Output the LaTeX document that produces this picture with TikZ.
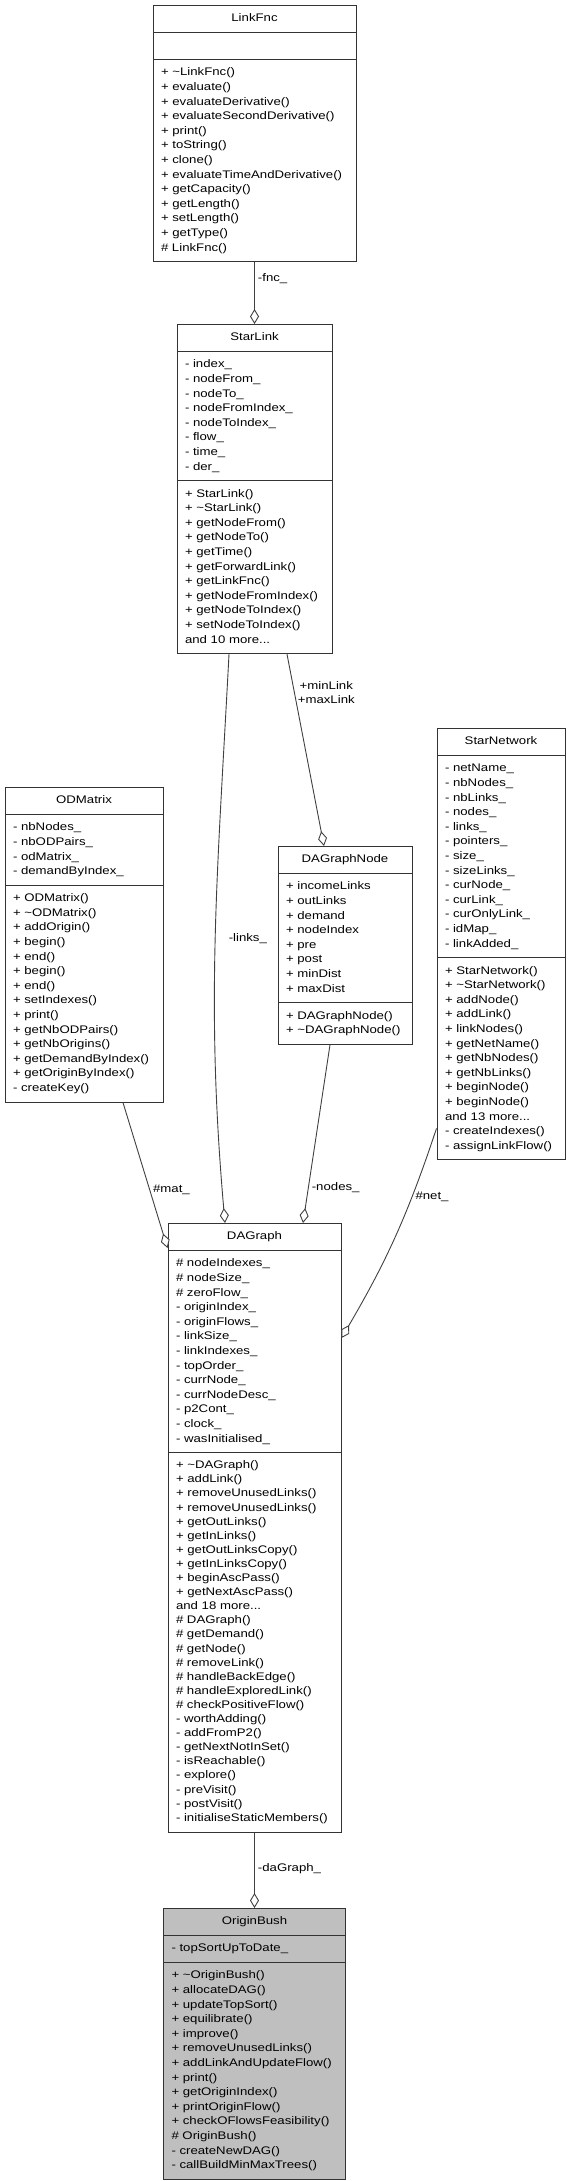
\documentclass[tikz,border=0pt]{standalone}
\usepackage{fontspec}
\setmainfont{Liberation Sans}[FakeStretch=1.2]
\usetikzlibrary{shapes.multipart,arrows.meta}
% centred class name in the first part
\newcommand{\cname}[1]{\hbox to\hsize{\hss#1\strut\hss}}

\begin{document}
\begin{tikzpicture}[x=1pt, y=-1pt,
    font=\fontsize{11}{14.6}\selectfont,
    umlclass/.style={draw=black!80, line width=1pt, fill=white, rectangle split, rectangle split parts=3,
        align=left, inner xsep=8pt, inner ysep=5.7pt, anchor=north},
    aggr/.style={draw=black!75, line width=0.9pt, -{Diamond[fill=white, length=15pt, width=9pt]}},
    elabel/.style={inner sep=3pt, align=center}]
\useasboundingbox (0,0) rectangle (571,2181);

% classes
\node[umlclass, text width=187pt] (linkfnc) at (254.5,5) {\cname{LinkFnc}
    \nodepart{two}\strut
    \nodepart{three}\strut + \textasciitilde LinkFnc()\\
    + evaluate()\\
    + evaluateDerivative()\\
    + evaluateSecondDerivative()\\
    + print()\\
    + toString()\\
    + clone()\\
    + evaluateTimeAndDerivative()\\
    + getCapacity()\\
    + getLength()\\
    + setLength()\\
    + getType()\\
    \# LinkFnc()\strut};

\node[umlclass, text width=139pt] (starlink) at (254.5,324) {\cname{StarLink}
    \nodepart{two}\strut - index\_\\
    - nodeFrom\_\\
    - nodeTo\_\\
    - nodeFromIndex\_\\
    - nodeToIndex\_\\
    - flow\_\\
    - time\_\\
    - der\_\strut
    \nodepart{three}\strut + StarLink()\\
    + \textasciitilde StarLink()\\
    + getNodeFrom()\\
    + getNodeTo()\\
    + getTime()\\
    + getForwardLink()\\
    + getLinkFnc()\\
    + getNodeFromIndex()\\
    + getNodeToIndex()\\
    + setNodeToIndex()\\
    and 10 more...\strut};

\node[umlclass, text width=142pt] (odmatrix) at (84,787) {\cname{ODMatrix}
    \nodepart{two}\strut - nbNodes\_\\
    - nbODPairs\_\\
    - odMatrix\_\\
    - demandByIndex\_\strut
    \nodepart{three}\strut + ODMatrix()\\
    + \textasciitilde ODMatrix()\\
    + addOrigin()\\
    + begin()\\
    + end()\\
    + begin()\\
    + end()\\
    + setIndexes()\\
    + print()\\
    + getNbODPairs()\\
    + getNbOrigins()\\
    + getDemandByIndex()\\
    + getOriginByIndex()\\
    - createKey()\strut};

\node[umlclass, text width=118pt] (dagraphnode) at (345,846) {\cname{DAGraphNode}
    \nodepart{two}\strut + incomeLinks\\
    + outLinks\\
    + demand\\
    + nodeIndex\\
    + pre\\
    + post\\
    + minDist\\
    + maxDist\strut
    \nodepart{three}\strut + DAGraphNode()\\
    + \textasciitilde DAGraphNode()\strut};

\node[umlclass, text width=112pt] (starnetwork) at (501,728) {\cname{StarNetwork}
    \nodepart{two}\strut - netName\_\\
    - nbNodes\_\\
    - nbLinks\_\\
    - nodes\_\\
    - links\_\\
    - pointers\_\\
    - size\_\\
    - sizeLinks\_\\
    - curNode\_\\
    - curLink\_\\
    - curOnlyLink\_\\
    - idMap\_\\
    - linkAdded\_\strut
    \nodepart{three}\strut + StarNetwork()\\
    + \textasciitilde StarNetwork()\\
    + addNode()\\
    + addLink()\\
    + linkNodes()\\
    + getNetName()\\
    + getNbNodes()\\
    + getNbLinks()\\
    + beginNode()\\
    + beginNode()\\
    and 13 more...\\
    - createIndexes()\\
    - assignLinkFlow()\strut};

\node[umlclass, text width=157pt] (dagraph) at (254.5,1223) {\cname{DAGraph}
    \nodepart{two}\strut \# nodeIndexes\_\\
    \# nodeSize\_\\
    \# zeroFlow\_\\
    - originIndex\_\\
    - originFlows\_\\
    - linkSize\_\\
    - linkIndexes\_\\
    - topOrder\_\\
    - currNode\_\\
    - currNodeDesc\_\\
    - p2Cont\_\\
    - clock\_\\
    - wasInitialised\_\strut
    \nodepart{three}\fontsize{11}{14.1}\selectfont\strut + \textasciitilde DAGraph()\\
    + addLink()\\
    + removeUnusedLinks()\\
    + removeUnusedLinks()\\
    + getOutLinks()\\
    + getInLinks()\\
    + getOutLinksCopy()\\
    + getInLinksCopy()\\
    + beginAscPass()\\
    + getNextAscPass()\\
    and 18 more...\\
    \# DAGraph()\\
    \# getDemand()\\
    \# getNode()\\
    \# removeLink()\\
    \# handleBackEdge()\\
    \# handleExploredLink()\\
    \# checkPositiveFlow()\\
    - worthAdding()\\
    - addFromP2()\\
    - getNextNotInSet()\\
    - isReachable()\\
    - explore()\\
    - preVisit()\\
    - postVisit()\\
    - initialiseStaticMembers()\strut};

\node[umlclass, fill=black!25, text width=166pt] (originbush) at (254.5,1908) {\cname{OriginBush}
    \nodepart{two}\strut - topSortUpToDate\_\strut
    \nodepart{three}\strut + \textasciitilde OriginBush()\\
    + allocateDAG()\\
    + updateTopSort()\\
    + equilibrate()\\
    + improve()\\
    + removeUnusedLinks()\\
    + addLinkAndUpdateFlow()\\
    + print()\\
    + getOriginIndex()\\
    + printOriginFlow()\\
    + checkOFlowsFeasibility()\\
    \# OriginBush()\\
    - createNewDAG()\\
    - callBuildMinMaxTrees()\strut};

% aggregations
\draw[aggr] (linkfnc.south) -- node[elabel, pos=0.27, right]{-fnc\_} (starlink.north);
\draw[aggr] ([xshift=-25.5pt]starlink.south) to[out=-93, in=95]
    node[elabel, pos=0.5, right=10pt]{-links\_} ([xshift=-29.5pt]dagraph.north);
\draw[aggr] ([xshift=32.5pt]starlink.south) --
    node[elabel, pos=0.2, right]{+minLink\\+maxLink} ([xshift=-21pt]dagraphnode.north);
\draw[aggr] ([xshift=39pt]odmatrix.south) --
    node[elabel, pos=0.6, right]{\#mat\_} ([yshift=-25pt]dagraph.north west);
\draw[aggr] ([xshift=-15pt]dagraphnode.south) --
    node[elabel, pos=0.8, right]{-nodes\_} ([xshift=48.5pt]dagraph.north);
\draw[aggr] ([yshift=32pt]starnetwork.south west) to[bend left=6]
    node[elabel, pos=0.3, right]{\#net\_} ([yshift=-115pt]dagraph.north east);
\draw[aggr] (dagraph.south) -- node[elabel, pos=0.48, right]{-daGraph\_} (originbush.north);
\end{tikzpicture}
\end{document}
